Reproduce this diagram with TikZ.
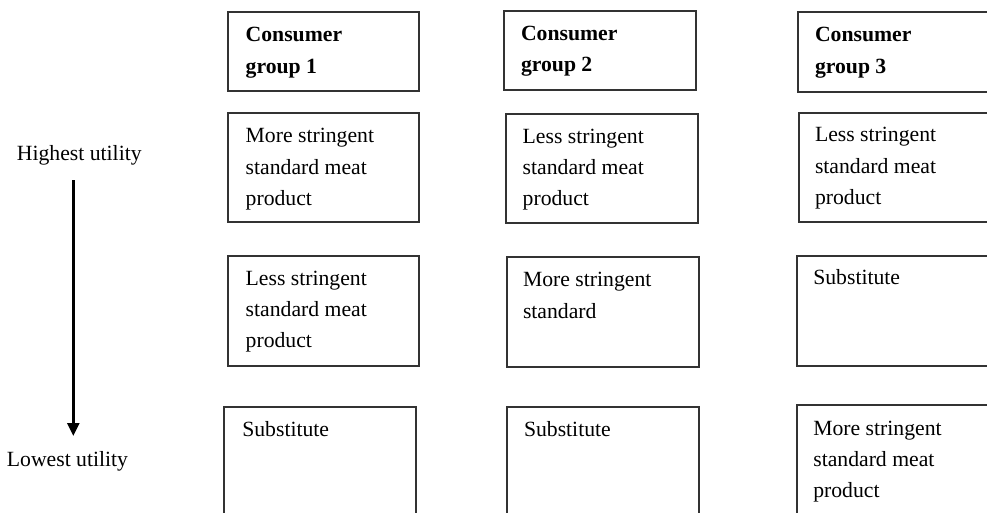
\documentclass[tikz,border=0pt]{standalone}
\usepackage{fontspec}
\setmainfont{Liberation Serif}
\usetikzlibrary{arrows.meta}
\tikzset{
  box/.style={draw=black!80, line width=1.5pt, rectangle, inner sep=0pt, outer sep=0pt, anchor=north west},
  txt/.style={anchor=north west, inner sep=0pt, outer sep=0pt, align=left, font=\fontsize{21.7}{31.3}\selectfont},
  lbl/.style={anchor=base west, inner sep=0pt, font=\fontsize{21.7}{26}\selectfont},
}
\newcommand{\fl}{\rule{0pt}{16pt}}
\newcommand{\mkbox}[5]{\node[box, minimum width=#4pt, minimum height=#5pt] (#1) at (#2,#3) {};}
\begin{document}
\begin{tikzpicture}[x=1pt,y=-1pt]
\useasboundingbox (0,0) rectangle (987,512);
\clip (0,0) rectangle (987,512);
% boxes: name, x, y, width, height
\mkbox{c1}{228}{12}{191}{79}
\mkbox{c2}{504}{11}{192}{79}
\mkbox{c3}{798}{12}{192}{80}
\mkbox{a1}{228}{113}{191}{109}
\mkbox{a2}{506}{114}{192}{109}
\mkbox{a3}{799}{113}{192}{109}
\mkbox{b1}{228}{256}{191}{110}
\mkbox{b2}{507}{257}{192}{110}
\mkbox{b3}{797}{256}{192}{110}
\mkbox{d1}{224}{407}{192}{120}
\mkbox{d2}{507}{407}{192}{120}
\mkbox{d3}{797}{405}{192}{120}
% texts (position = first baseline - 16)
\node[txt, font=\fontsize{21.7}{31.3}\selectfont\bfseries] (tc1) at (245.7,25.7) {\fl Consumer\\group 1};
\node[txt, font=\fontsize{21.7}{31.3}\selectfont\bfseries] (tc2) at (521,24) {\fl Consumer\\group 2};
\node[txt, font=\fontsize{21.7}{31.3}\selectfont\bfseries] (tc3) at (815,25.7) {\fl Consumer\\group 3};
\node[txt] (ta1) at (245.7,126.7) {\fl More stringent\\standard meat\\product};
\node[txt] (ta2) at (522.7,127.3) {\fl Less stringent\\standard meat\\product};
\node[txt] (ta3) at (815,125.7) {\fl Less stringent\\standard meat\\product};
\node[txt] (tb1) at (245.7,269) {\fl Less stringent\\standard meat\\product};
\node[txt] (tb2) at (523,270.7) {\fl More stringent\\standard};
\node[txt] (tb3) at (813.3,268.3) {\fl Substitute};
\node[txt] (td1) at (242.3,420.7) {\fl Substitute};
\node[txt] (td2) at (524,420.7) {\fl Substitute};
\node[txt] (td3) at (813.3,419) {\fl More stringent\\standard meat\\product};
% utility axis
\node[lbl] (hi) at (16.7,160.7) {Highest utility};
\node[lbl] (lo) at (6.7,466.7) {Lowest utility};
\coordinate (as) at (73.3,180);
\coordinate (ae) at (73.3,436);
\draw[line width=2.5pt, -{Triangle[length=13pt,width=12pt]}] (as) -- (ae);
\end{tikzpicture}
\end{document}
